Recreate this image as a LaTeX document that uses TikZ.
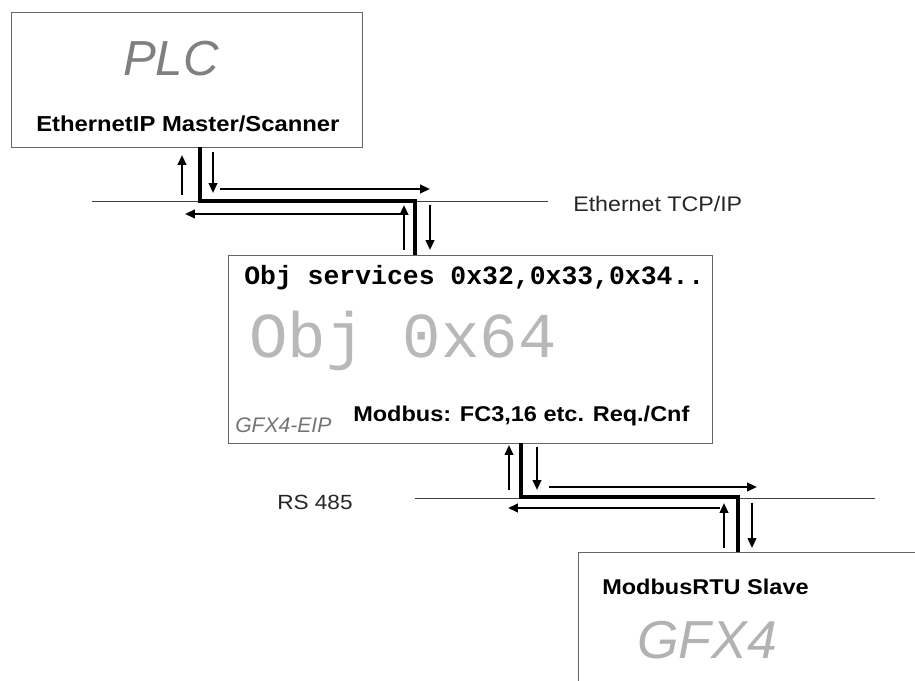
\documentclass[tikz,border=0pt]{standalone}
\usepackage{fontspec}
\setmainfont{Liberation Sans}
\setmonofont{Liberation Mono}
\newfontfamily\widesans[FakeStretch=1.1]{Liberation Sans}
\usetikzlibrary{arrows.meta, positioning, calc}

\begin{document}
\begin{tikzpicture}[
        x=0.025cm, y=-0.025cm,
        % Estilos das caixas e linhas
        devbox/.style={rectangle, draw=black!60, line width=0.6pt, inner sep=0pt},
        bus/.style={draw=black!75, line width=0.7pt},
        link/.style={draw=black, line width=2.4pt},
        flow/.style={-{Triangle[length=7pt, width=6pt]}, line width=1.5pt, draw=black},
        bigname/.style={inner sep=0pt, font=\fontsize{35}{37}\selectfont\itshape},
        boldlabel/.style={inner sep=0pt, anchor=base west, font=\fontsize{15.4}{17}\selectfont\widesans\bfseries},
        buslabel/.style={inner sep=0pt, anchor=base west, font=\fontsize{15}{17}\selectfont\widesans, text=black!85}
    ]
    \useasboundingbox (0,0) rectangle (915,681);
    \clip (0,0) rectangle (915,681);

    % 1. PLC
    \node (plc) [devbox, minimum width=8.775cm, minimum height=3.375cm] at (186.5,79.5) {};
    \node (plcname) [bigname, text=black!50] at (171,59) {PLC};
    \node (master) [boldlabel] at (36,132) {EthernetIP Master/Scanner};

    % 2. Gateway GFX4-EIP
    \node (obj) [devbox, minimum width=12.1cm, minimum height=4.7cm] at (470,349) {};
    \node (services) [inner sep=0pt, anchor=base west, font=\fontsize{18.8}{21}\selectfont\ttfamily\bfseries] at (244,285) {Obj services 0x32,0x33,0x34..};
    \node (objid) [inner sep=0pt, anchor=base west, text=black!28, font=\fontsize{45.5}{48}\selectfont\ttfamily] at (249,358) {Obj 0x64};
    \node (modbusreq) [boldlabel, font=\fontsize{15.2}{17}\selectfont\widesans\bfseries] at (353,422) {Modbus: FC3,16 etc. Req./Cnf};
    \node (gwname) [inner sep=0pt, anchor=base west, text=black!55, font=\fontsize{15}{17}\selectfont\itshape] at (235,433) {GFX4-EIP};

    % 3. Slave GFX4
    \node (slave) [devbox, minimum width=10cm, minimum height=5cm] at (778,652) {};
    \node (slavelabel) [boldlabel, font=\fontsize{15.2}{17}\selectfont\widesans\bfseries] at (602,594) {ModbusRTU Slave};
    \node (slavename) [bigname, text=black!30, anchor=base west, font=\fontsize{38}{40}\selectfont\itshape] at (637,658) {GFX4};

    % Barramentos
    \coordinate (ethL) at (92,201);
    \coordinate (ethR) at (548,201);
    \draw [bus] (ethL) -- (ethR);
    \node (ethlabel) [buslabel] at (573,212) {Ethernet TCP/IP};

    \coordinate (rsL) at (415,498);
    \coordinate (rsR) at (875,498);
    \draw [bus] (rsL) -- (rsR);
    \node (rslabel) [buslabel, font=\fontsize{14.6}{17}\selectfont\widesans] at (277,510) {RS 485};

    % Ligacoes (PLC -> Gateway -> Slave)
    \coordinate (bend1) at (200,201);
    \coordinate (bend2) at (415,201);
    \draw [link] (plc.south -| bend1) -- (bend1) -- (bend2) -- (obj.north -| bend2);

    \coordinate (bend3) at (521,497);
    \coordinate (bend4) at (738,497);
    \draw [link] (obj.south -| bend3) -- (bend3) -- (bend4) -- (slave.north -| bend4);

    % Setas de pedido / resposta (Ethernet)
    \draw [flow] ($(bend1)+(-18,-6)$) -- ($(bend1)+(-18,-46)$);
    \draw [flow] ($(bend1)+(13,-49)$) -- ($(bend1)+(13,-8)$);
    \draw [flow] ($(bend1)+(20,-12)$) -- ($(bend2)+(15,-12)$);
    \draw [flow] ($(bend2)+(-10,13)$) -- ($(bend1)+(-15,13)$);
    \draw [flow] ($(bend2)+(-11,49)$) -- ($(bend2)+(-11,4)$);
    \draw [flow] ($(bend2)+(15,4)$) -- ($(bend2)+(15,49)$);

    % Setas de pedido / resposta (RS 485)
    \draw [flow] ($(bend3)+(-12,-7)$) -- ($(bend3)+(-12,-52)$);
    \draw [flow] ($(bend3)+(16,-50)$) -- ($(bend3)+(16,-7)$);
    \draw [flow] ($(bend3)+(28,-10)$) -- ($(bend4)+(19,-10)$);
    \draw [flow] ($(bend4)+(-18,11)$) -- ($(bend3)+(-13,11)$);
    \draw [flow] ($(bend4)+(-14,51)$) -- ($(bend4)+(-14,6)$);
    \draw [flow] ($(bend4)+(14,6)$) -- ($(bend4)+(14,51)$);

\end{tikzpicture}
\end{document}
